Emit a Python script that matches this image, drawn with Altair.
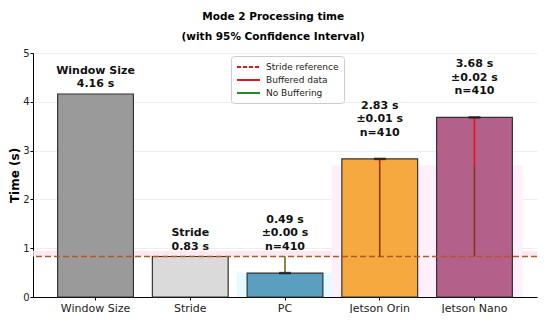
import altair as alt
import pandas as pd

# ---- data ----
categories = ["Window Size", "Stride", "PC", "Jetson Orin", "Jetson Nano"]
values = [4.16, 0.83, 0.49, 2.83, 3.68]
ci_half = [None, None, 0.00, 0.01, 0.02]
counts = [None, None, 410, 410, 410]
bar_colors = ["#9a9a9a", "#dadada", "#5a9fc0", "#f5a93e", "#b3608b"]
stride_ref = 0.83
buffer_split = 2.70
legend_series = ["Stride reference", "Buffered data", "No Buffering"]
legend_colors = ["#e8141a", "#e8141a", "#2a8a2a"]
shade_cats = ["PC", "Jetson Orin", "Jetson Nano"]
shade_tops = [0.5, buffer_split, buffer_split]
shade_colors = ["#e6fbff", "#fff0fb", "#fff0fb"]

FONT = "DejaVu Sans"

def make_label(cat, v, ci, n):
    if ci is None:
        return f"{cat}\n{v:.2f} s"
    return f"{v:.2f} s\n±{ci:.2f} s\nn={n}"

bars = pd.DataFrame({
    "cat": categories,
    "value": values,
    "label": [make_label(c, v, e, n) for c, v, e, n in zip(categories, values, ci_half, counts)],
    "measured": [e is not None for e in ci_half],
})

measured = bars[bars["measured"]]
pc_seg = measured[measured["value"] < stride_ref].assign(lo=lambda d: d["value"], hi=stride_ref)
low_seg = measured[measured["value"] > stride_ref].assign(lo=stride_ref, hi=buffer_split)
high_seg = measured[measured["value"] > stride_ref].assign(lo=buffer_split, hi=lambda d: d["value"])

ref_df = pd.DataFrame({"y": [stride_ref], "y2": [0.95]})
legend_df = pd.DataFrame({"series": legend_series, "v": [0, 0, 0]})
shade_df = pd.DataFrame({"cat": shade_cats, "lo": 0.0, "hi": shade_tops})

xscale = alt.Scale(domain=categories, paddingInner=0.2, paddingOuter=0.26)
xenc = alt.X("cat:N", sort=categories, scale=xscale,
             axis=alt.Axis(title=None, labelAngle=0, labelFontSize=11, labelColor="#222",
                           labelAlign="center", labelBaseline="top", bandPosition=0.5,
                           tickColor="#000", domainColor="#000", tickSize=3, labelPadding=2))
yscale = alt.Scale(domain=[0, 5], nice=False)

band = alt.Chart(ref_df).mark_rect(color="#fbe3ef", opacity=0.8).encode(
    y=alt.Y("y:Q", scale=yscale), y2="y2:Q")

shade = alt.Chart(shade_df).mark_bar(width=alt.RelativeBandSize(1.27)).encode(
    x=alt.X("cat:N", sort=categories), y="hi:Q", y2="lo:Q",
    fill=alt.Fill("cat:N", scale=alt.Scale(domain=shade_cats, range=shade_colors), legend=None))

bar_layer = alt.Chart(bars).mark_bar(stroke="#333333", strokeWidth=1.2).encode(
    x=xenc,
    y=alt.Y("value:Q", scale=yscale,
            axis=alt.Axis(title="Time (s)", titleFontSize=12, titleFontWeight="bold",
                          titleColor="#000", values=[0, 1, 2, 3, 4, 5], labelFontSize=10,
                          labelColor="#222", tickColor="#000", domainColor="#000", tickSize=3,
                          gridColor="#eeeeee", titlePadding=1, labelPadding=1)),
    fill=alt.Fill("cat:N", scale=alt.Scale(domain=categories, range=bar_colors), legend=None),
)

ref_line = alt.Chart(ref_df).mark_rule(color="#b5562b", strokeDash=[6, 3], strokeWidth=1.5).encode(
    y=alt.Y("y:Q", scale=yscale))

pc_rule = alt.Chart(pc_seg).mark_rule(color="#6b6b20", strokeWidth=1.6).encode(
    x=alt.X("cat:N", sort=categories), y="lo:Q", y2="hi:Q")
low_rule = alt.Chart(low_seg).mark_rule(color="#8b3516", strokeWidth=1.6).encode(
    x=alt.X("cat:N", sort=categories), y="lo:Q", y2="hi:Q")
high_rule = alt.Chart(high_seg).mark_rule(color="#e8141a", strokeWidth=1.6).encode(
    x=alt.X("cat:N", sort=categories), y="lo:Q", y2="hi:Q")

caps = alt.Chart(measured).mark_tick(color="#111111", size=12, thickness=2.5).encode(
    x=alt.X("cat:N", sort=categories), y="value:Q")

labels = alt.Chart(bars).transform_calculate(
    ly="datum.measured ? datum.value + 0.45 + 0.54 : datum.value + 0.1 + 0.27"
).mark_text(font=FONT, fontSize=11, fontWeight="bold", baseline="bottom",
            align="center", lineBreak="\n", lineHeight=13.5, color="#111").encode(
    x=alt.X("cat:N", sort=categories), y="ly:Q", text="label:N")

legend_kw = dict(title=None, orient="none", legendX=198, legendY=3,
                 symbolType="M-1,0H3.6", symbolSize=100, symbolStrokeWidth=1.8,
                 labelFontSize=9, labelFont=FONT, labelColor="#222",
                 fillColor="white", strokeColor="#cccccc", padding=5,
                 cornerRadius=3, rowPadding=2, labelOffset=18)

legend_layer = alt.Chart(legend_df).transform_filter("datum.v > 1").mark_rule(strokeWidth=1.8).encode(
    y="v:Q",
    color=alt.Color("series:N", scale=alt.Scale(domain=legend_series, range=legend_colors),
                    legend=alt.Legend(**legend_kw)),
    strokeDash=alt.StrokeDash("series:N",
                              scale=alt.Scale(domain=legend_series, range=[[4, 2], [1, 0], [1, 0]]),
                              legend=alt.Legend(**legend_kw)),
)

chart = alt.layer(band, shade, bar_layer, ref_line, pc_rule, low_rule, high_rule, caps,
                  labels, legend_layer).resolve_scale(fill="independent").properties(
    width=504, height=244, padding={"left": 0, "top": 4, "right": 0, "bottom": 0},
    title=alt.TitleParams("Mode 2 Processing time", subtitle="(with 95% Confidence Interval)",
                          font=FONT, fontSize=10.5, fontWeight="bold", color="#000",
                          subtitleFont=FONT, subtitleFontSize=10.5, subtitleFontWeight="bold",
                          subtitleColor="#000", subtitlePadding=9, offset=6,
                          anchor="middle", frame="bounds"),
).configure_view(stroke=None).configure_axis(labelFont=FONT, titleFont=FONT, grid=True
).configure_axisX(grid=False)

chart.save("out.html", embed_options={"renderer": "svg", "actions": False})
